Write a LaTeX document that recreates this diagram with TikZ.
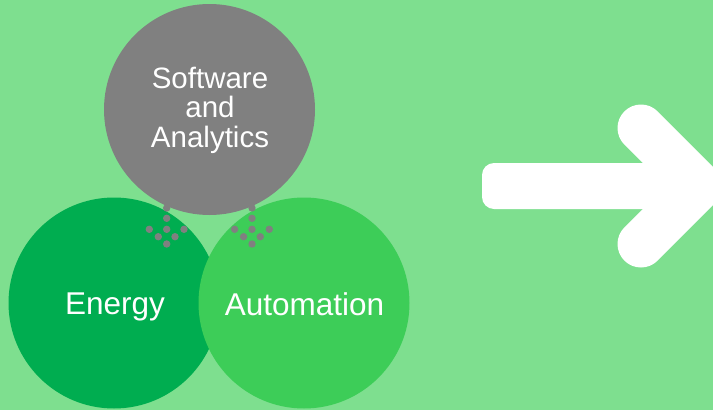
\documentclass[tikz,border=0pt]{standalone}
\usepackage{fontspec}
\setmainfont{Liberation Sans}
\definecolor{bggreen}{RGB}{126,223,143}
\definecolor{energygreen}{RGB}{0,173,80}
\definecolor{autogreen}{RGB}{61,205,88}
\definecolor{softgray}{RGB}{128,128,128}
\tikzset{
  bubble/.style = {circle, minimum size=211pt, inner sep=0pt},
  bubbletext/.style = {text=white, font=\fontsize{29.5}{29.5}\selectfont, align=center, inner sep=0pt},
  bigtext/.style = {bubbletext, font=\fontsize{31.5}{31.5}\selectfont},
  dotgray/.style = {fill=softgray},
}
\begin{document}
\begin{tikzpicture}[x=1pt, y=-1pt]
    % background
    \fill[bggreen] (0, 0) rectangle (713, 410);
    \useasboundingbox (0, 0) rectangle (713, 410);
    \clip (0, 0) rectangle (713, 410);

    % circles
    \node[bubble, fill=energygreen] (energy)   at (114.0, 303.0) {};
    \node[bubble, fill=autogreen]   (auto)     at (304.0, 303.0) {};
    \node[bubble, fill=softgray]    (software) at (209.5, 109.5) {};

    % labels
    \node[bubbletext]           (softwaretext) at (210.0, 110.3) {Software\\and\\Analytics};
    \node[bigtext, anchor=base] (energytext)   at (115.0, 314.5) {Energy};
    \node[bigtext, anchor=base] (autotext)     at (304.5, 315.0) {Automation};

    % dots below the grey circle
    \foreach \cx in {166.7, 252.0} {
        \foreach \dx/\dy in {0/-10.3, 0/0, -17.4/11, 0/11, 17.3/11, -8.4/18.4, 8.3/18.4, 0/25.7}
            \fill[dotgray] (\cx+\dx, 218.3+\dy) circle[radius = 3.7];
    }

    % arrow
    \fill[white, rounded corners=12] (482, 163) rectangle (690, 209);
    \draw[white, line width=47, line cap=round, line join=round] (641, 128) -- (699, 186) -- (641, 244);
\end{tikzpicture}
\end{document}
